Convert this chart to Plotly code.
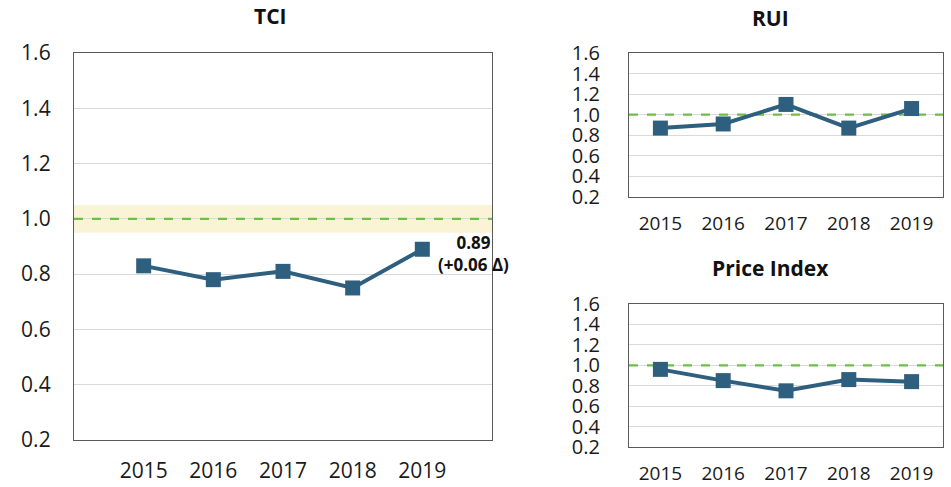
import plotly.graph_objects as go

years = ["2015", "2016", "2017", "2018", "2019"]
tci = [0.83, 0.78, 0.81, 0.75, 0.89]
rui = [0.87, 0.91, 1.10, 0.87, 1.06]
price_index = [0.96, 0.85, 0.75, 0.86, 0.84]
y_ticks = [0.2, 0.4, 0.6, 0.8, 1.0, 1.2, 1.4, 1.6]
target = 1.0
band = [0.95, 1.05]
tci_label = "0.89<br>(+0.06 Δ)"

W, H = 951, 487
LINE = "#2E5F7F"
GREEN = "#6CBF47"
FONT = "Open Sans, Noto Sans, DejaVu Sans, sans-serif"
idx = list(range(len(years)))

def px_x(a, b):
    return [a / W, b / W]

def px_y(top, bottom):
    return [1 - bottom / H, 1 - top / H]

fig = go.Figure()

panels = [
    (tci, "x", "y", px_x(74, 492), px_y(53, 440), [-1, 5], 21, 21, "TCI", 16, 270),
    (rui, "x2", "y2", px_x(629, 943), px_y(53, 197), [-0.5, 4.5], 20, 19, "RUI", 18, 770),
    (price_index, "x3", "y3", px_x(629, 943), px_y(304, 447), [-0.5, 4.5], 20, 19, "Price Index", 268, 770),
]

layout_axes = {}
for i, (vals, xa, ya, xd, yd, xr, yfs, xfs, title, ty, tx) in enumerate(panels):
    big = (i == 0)
    # target reference line (drawn as a trace so it sits above gridlines, below data)
    fig.add_trace(go.Scatter(
        x=xr, y=[target, target], xaxis=xa, yaxis=ya, mode="lines",
        line=dict(color=GREEN, width=2.2, dash="dash"),
        showlegend=False, hoverinfo="skip", cliponaxis=True,
    ))
    fig.add_trace(go.Scatter(
        x=idx, y=vals, xaxis=xa, yaxis=ya, mode="lines+markers",
        line=dict(color=LINE, width=4),
        marker=dict(symbol="square", size=15, color=LINE),
        showlegend=False, hoverinfo="skip",
    ))
    xkey = "xaxis" if xa == "x" else "xaxis" + xa[1:]
    ykey = "yaxis" if ya == "y" else "yaxis" + ya[1:]
    layout_axes[xkey] = dict(
        domain=xd, range=xr, anchor=ya, tickvals=idx, ticktext=years,
        showgrid=False, zeroline=False, showline=True, mirror=True,
        linecolor="#5a5a5a", linewidth=1.3, ticks="", automargin=False,
        ticklabelstandoff=12 if big else 9,
        tickfont=dict(size=xfs, color="#1a1a1a", family=FONT),
    )
    layout_axes[ykey] = dict(
        domain=yd, range=[0.2, 1.6], anchor=xa, tickvals=y_ticks,
        ticktext=[f"{v:.1f}" for v in y_ticks],
        showgrid=True, gridcolor="#d9d9d9", gridwidth=1.3, zeroline=False,
        showline=True, mirror=True, linecolor="#5a5a5a", linewidth=1.3, ticks="",
        automargin=False,
        ticklabelstandoff=18 if big else 24,
        tickfont=dict(size=yfs, color="#1a1a1a", family=FONT),
    )
    if big:
        fig.add_shape(type="rect", xref=xa + " domain", yref=ya, x0=0, x1=1,
                      y0=band[0], y1=band[1], fillcolor="#FBF3D6",
                      line=dict(width=0), layer="below")
    fig.add_annotation(text=f"<b>{title}</b>", xref="paper", yref="paper",
                       x=tx / W, y=1 - ty / H, xanchor="center", yanchor="middle",
                       showarrow=False, font=dict(size=21, color="#111111", family=FONT))

fig.add_annotation(text=f"<b>{tci_label}</b>", xref="x", yref="y",
                   x=idx[-1], y=tci[-1], xshift=51, yshift=-4,
                   xanchor="center", yanchor="middle", showarrow=False,
                   align="center",
                   font=dict(size=17, color="#111111", family=FONT))

fig.update_layout(
    width=W, height=H, autosize=False,
    margin=dict(l=0, r=0, t=0, b=0),
    paper_bgcolor="white", plot_bgcolor="white",
    **layout_axes,
)

fig.write_html("out.html", config={"displayModeBar": False},
               post_script="document.body.style.margin='0px';")
